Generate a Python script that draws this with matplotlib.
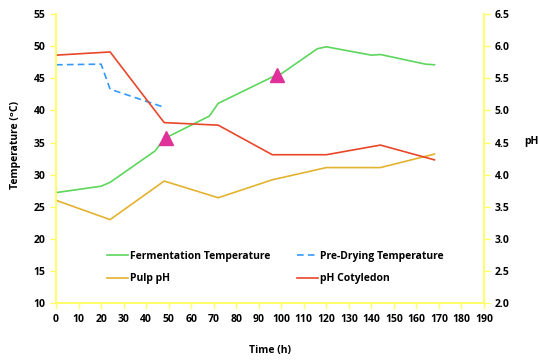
import matplotlib

matplotlib.use("Agg")
import matplotlib.pyplot as plt

plt.rcParams["font.family"] = ["Open Sans", "DejaVu Sans"]
plt.rcParams["font.weight"] = "bold"

# --- data ---
ferm_hours = [0, 20, 24, 44, 48, 68, 72, 96, 100, 116, 120, 140, 144, 164, 168]
ferm_temp = [27.2, 28.2, 28.8, 33.7, 35.6, 39.1, 41.1, 45.2, 45.7, 49.6, 49.9, 48.6, 48.7, 47.2, 47.1]

predry_hours = [0, 20, 24, 47]
predry_temp = [47.1, 47.2, 43.3, 40.6]

ph_hours = [0, 24, 48, 72, 96, 120, 144, 168]
pulp_ph = [3.60, 3.30, 3.90, 3.64, 3.92, 4.11, 4.11, 4.32]
cotyledon_ph = [5.86, 5.91, 4.81, 4.77, 4.31, 4.31, 4.46, 4.23]

marker_hours = [49, 98]
marker_temp = [35.7, 45.5]

x_ticks = list(range(0, 200, 10))
temp_ticks = list(range(10, 60, 5))
ph_ticks = [2.0, 2.5, 3.0, 3.5, 4.0, 4.5, 5.0, 5.5, 6.0, 6.5]

AXIS_YELLOW = "#ffff66"
FS = 7.5

fig, ax = plt.subplots(figsize=(5.39, 3.6), dpi=100)
fig.subplots_adjust(left=0.104, right=0.898, top=0.961, bottom=0.158)
ax2 = ax.twinx()

ln1, = ax.plot(ferm_hours, ferm_temp, color="#5cd65c", lw=1.2)
ln2, = ax.plot(predry_hours, predry_temp, color="#3399ff", lw=1.2, ls=(0, (4, 2.5)))
ax.plot(marker_hours, marker_temp, ls="none", marker="^", ms=10, color="#e0309a", zorder=5)
ln3, = ax2.plot(ph_hours, pulp_ph, color="#e3b22e", lw=1.2)
ln4, = ax2.plot(ph_hours, cotyledon_ph, color="#e8472a", lw=1.2)

ax.set_xlim(0, 190)
ax.set_ylim(10, 55)
ax2.set_ylim(2.0, 6.5)
ax.set_xticks(x_ticks)
ax.set_yticks(temp_ticks)
ax2.set_yticks(ph_ticks)
ax2.set_yticklabels([f"{v:.1f}" for v in ph_ticks])

for a in (ax, ax2):
    a.spines["top"].set_visible(False)
    for side in ("left", "right", "bottom"):
        a.spines[side].set_color(AXIS_YELLOW)
        a.spines[side].set_linewidth(1.2)
    a.tick_params(colors=AXIS_YELLOW, labelcolor="black", labelsize=FS, length=4, width=1)
    for lbl in a.get_xticklabels() + a.get_yticklabels():
        lbl.set_fontweight("bold")

fig.text(270 / 539, 1 - 350 / 360, "Time (h)", fontsize=FS, fontweight="bold",
         ha="center", va="center")
fig.text(16 / 539, 1 - 145 / 360, "Temperature (ᵒC)", fontsize=FS, fontweight="bold",
         ha="center", va="center", rotation=90)
fig.text(531 / 539, 1 - 142 / 360, "pH", fontsize=FS, fontweight="bold",
         ha="center", va="center")

# two single-column legends so each column sits where the reference has it
leg_kw = dict(frameon=False, loc="upper left", fontsize=FS, handlelength=2.0,
              handletextpad=0.25, labelspacing=1.1, borderaxespad=0, borderpad=0,
              prop={"weight": "bold", "size": FS}, bbox_transform=fig.transFigure)
leg1 = ax.legend([ln1, ln3], ["Fermentation Temperature", "Pulp pH"],
                 bbox_to_anchor=(107 / 539, 1 - 251 / 360), **leg_kw)
ax.add_artist(leg1)
ax.legend([ln2, ln4], ["Pre-Drying Temperature", "pH Cotyledon"],
          bbox_to_anchor=(297 / 539, 1 - 251 / 360), **leg_kw)

fig.savefig("out.png", dpi=100)
plt.close(fig)
